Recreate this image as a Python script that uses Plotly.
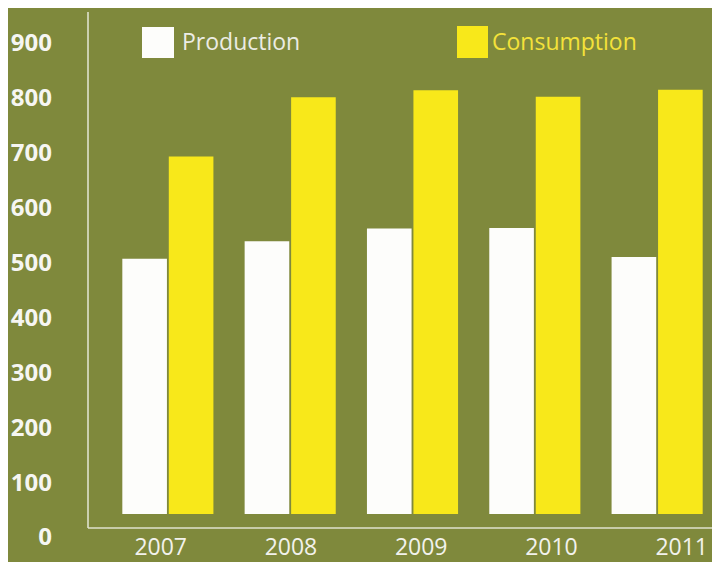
import plotly.graph_objects as go

# ---- data ----
years = ["2007", "2008", "2009", "2010", "2011"]
production = [507, 539, 562, 563, 510]
consumption = [693, 801, 814, 802, 815]
y_ticks = [0, 100, 200, 300, 400, 500, 600, 700, 800, 900]

# ---- layout geometry (page body adds an 8px margin all round) ----
OFF = 8
W, H = 720 - OFF, 570 - 2 * OFF
ML, MR, MT, MB = 88 - OFF, 0, 12 - OFF, 0
PW, PH = W - ML - MR, H - MT - MB
PLOT_BOTTOM = OFF + H - MB  # screen px

BG = "#7f893c"
YELLOW = "#f8e81a"
WHITE = "#fdfdfb"
LINE = "#dfe2cc"

BAR_BASE = 42  # bars are drawn floating slightly above the zero label


def pxx(px):
    return (px - OFF - ML) / PW


def pxy(py):
    return (PLOT_BOTTOM - py) / PH


fig = go.Figure()
fig.add_trace(go.Bar(
    x=years, y=[v - BAR_BASE for v in production], base=BAR_BASE,
    name="Production", marker=dict(color=WHITE, line=dict(width=0)),
    customdata=production, hovertemplate="%{x}: %{customdata}<extra>Production</extra>",
))
fig.add_trace(go.Bar(
    x=years, y=[v - BAR_BASE for v in consumption], base=BAR_BASE,
    name="Consumption", marker=dict(color=YELLOW, line=dict(width=0)),
    customdata=consumption, hovertemplate="%{x}: %{customdata}<extra>Consumption</extra>",
))
# carrier trace for the year-label axis
fig.add_trace(go.Scatter(
    x=list(range(len(years))), y=[None] * len(years), xaxis="x2",
    mode="markers", showlegend=False, hoverinfo="skip",
))

# axis lines
fig.add_shape(type="line", xref="paper", yref="paper",
              x0=0, x1=1, y0=pxy(528), y1=pxy(528),
              line=dict(color=LINE, width=1.6))
fig.add_shape(type="line", xref="paper", yref="paper",
              x0=0, x1=0, y0=pxy(528), y1=pxy(12),
              line=dict(color=LINE, width=1.6))

# legend (large square swatches)
fig.add_shape(type="rect", xref="paper", yref="paper",
              x0=pxx(142), x1=pxx(174), y0=pxy(58), y1=pxy(27),
              fillcolor=WHITE, line=dict(width=0))
fig.add_shape(type="rect", xref="paper", yref="paper",
              x0=pxx(457), x1=pxx(488), y0=pxy(58), y1=pxy(26),
              fillcolor=YELLOW, line=dict(width=0))
fig.add_annotation(text="Production", xref="paper", yref="paper",
                   x=pxx(180), y=pxy(41), xanchor="left", yanchor="middle",
                   showarrow=False, font=dict(size=23, color="#ecece4", family="Open Sans"))
fig.add_annotation(text="Consumption", xref="paper", yref="paper",
                   x=pxx(490), y=pxy(41), xanchor="left", yanchor="middle",
                   showarrow=False, font=dict(size=23, color="#f4e23a", family="Open Sans"))

s = (537 - 43) / 900.0  # px per unit
fig.update_layout(
    width=W, height=H,
    margin=dict(l=ML, r=MR, t=MT, b=MB, pad=0, autoexpand=False),
    paper_bgcolor=BG, plot_bgcolor=BG,
    barmode="group", bargap=0.24, bargroupgap=0.04,
    showlegend=False,
    xaxis=dict(type="category", range=[-0.653, 4.514], showticklabels=False,
               showgrid=False, zeroline=False, showline=False, ticks="",
               automargin=False),
    xaxis2=dict(overlaying="x", anchor="free", position=pxy(531), side="bottom",
                type="linear", range=[-0.558, 4.294], tickmode="array",
                tickvals=list(range(len(years))), ticktext=years,
                showgrid=False, zeroline=False, showline=False, ticks="",
                ticklabelstandoff=0, automargin=False,
                tickfont=dict(size=23, color="#f2f2ec", family="Open Sans")),
    yaxis=dict(range=[-(PLOT_BOTTOM - 537) / s, (537 - 12) / s], tickmode="array",
               tickvals=y_ticks, ticktext=[str(v) for v in y_ticks],
               showgrid=False, zeroline=False, showline=False, ticks="",
               ticklabelstandoff=35, automargin=False,
               tickfont=dict(size=24, color="#f6f6f2", family="Open Sans", weight="bold")),
)

fig.write_html("out.html")
